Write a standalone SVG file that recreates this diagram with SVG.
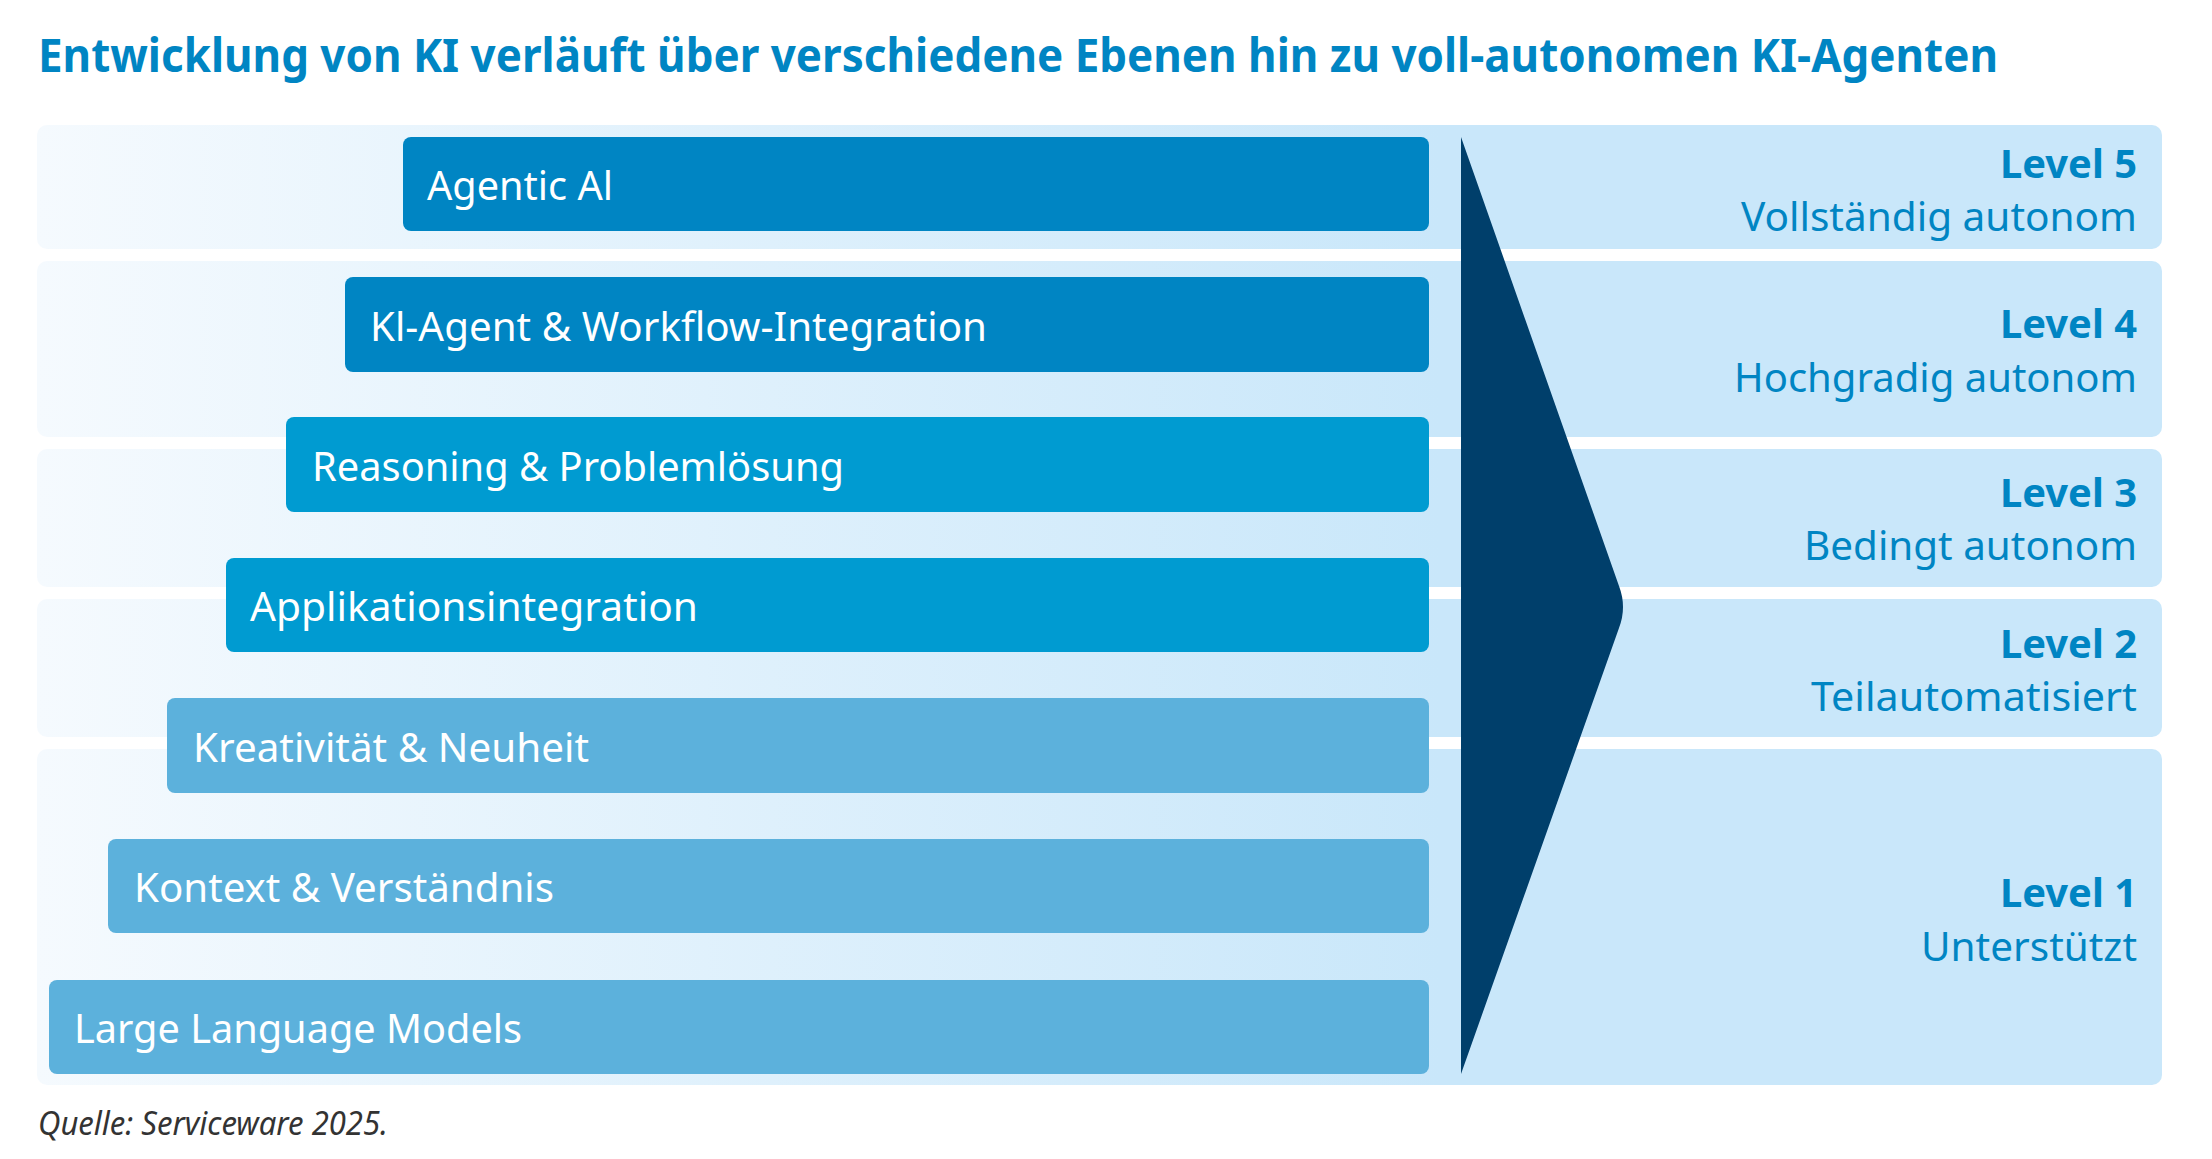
<svg xmlns="http://www.w3.org/2000/svg" width="2212" height="1159" viewBox="0 0 2212 1159">
<defs>
<linearGradient id="bg" x1="37" y1="0" x2="2162" y2="0" gradientUnits="userSpaceOnUse">
<stop offset="0" stop-color="#F5FAFE"/><stop offset="0.66" stop-color="#C9E7FA"/><stop offset="1" stop-color="#C9E7FA"/>
</linearGradient>
</defs>
<style>
text{font-family:"Noto Sans","Open Sans",sans-serif}
.band{fill:url(#bg)}
.b1{fill:#0085C3}.b2{fill:#009BD1}.b3{fill:#5CB1DC}
.lbl{fill:#fff;font-size:40px}
.lv{fill:#0085C3;font-size:40px;font-weight:bold;text-anchor:end}
.sub{fill:#0085C3;font-size:40px;text-anchor:end}
</style>
<rect width="2212" height="1159" fill="#fff"/>
<text x="38" y="72" font-size="46" font-weight="bold" fill="#0085C3" textLength="1960" lengthAdjust="spacingAndGlyphs">Entwicklung von KI verläuft über verschiedene Ebenen hin zu voll-autonomen KI-Agenten</text>
<g id="bands">
<rect class="band" x="37" y="125" width="2125" height="124" rx="10"/>
<rect class="band" x="37" y="261" width="2125" height="176" rx="10"/>
<rect class="band" x="37" y="449" width="2125" height="138" rx="10"/>
<rect class="band" x="37" y="599" width="2125" height="138" rx="10"/>
<rect class="band" x="37" y="749" width="2125" height="336" rx="10"/>
</g>
<g id="bar1"><rect class="b1" x="403" y="137" width="1026" height="94" rx="8"/><text class="lbl" x="427" y="200" textLength="186" lengthAdjust="spacingAndGlyphs">Agentic Al</text></g>
<g id="bar2"><rect class="b1" x="345" y="277" width="1084" height="95" rx="8"/><text class="lbl" x="370" y="341" textLength="617" lengthAdjust="spacingAndGlyphs">Kl-Agent &amp; Workflow-Integration</text></g>
<g id="bar3"><rect class="b2" x="286" y="417" width="1143" height="95" rx="8"/><text class="lbl" x="312" y="481" textLength="532" lengthAdjust="spacingAndGlyphs">Reasoning &amp; Problemlösung</text></g>
<g id="bar4"><rect class="b2" x="226" y="558" width="1203" height="94" rx="8"/><text class="lbl" x="250" y="621" textLength="448" lengthAdjust="spacingAndGlyphs">Applikationsintegration</text></g>
<g id="bar5"><rect class="b3" x="167" y="698" width="1262" height="95" rx="8"/><text class="lbl" x="193" y="762" textLength="396" lengthAdjust="spacingAndGlyphs">Kreativität &amp; Neuheit</text></g>
<g id="bar6"><rect class="b3" x="108" y="839" width="1321" height="94" rx="8"/><text class="lbl" x="134" y="902" textLength="420" lengthAdjust="spacingAndGlyphs">Kontext &amp; Verständnis</text></g>
<g id="bar7"><rect class="b3" x="49" y="980" width="1380" height="94" rx="8"/><text class="lbl" x="74" y="1043" textLength="448" lengthAdjust="spacingAndGlyphs">Large Language Models</text></g>
<g id="arrow"><path d="M1461,137 L1619,586 Q1627,607 1619,628 L1461,1074 Z" fill="#003F6B"/></g>
<g id="level5"><text class="lv" x="2137" y="178" textLength="137" lengthAdjust="spacingAndGlyphs">Level 5</text><text class="sub" x="2137" y="231" textLength="396" lengthAdjust="spacingAndGlyphs">Vollständig autonom</text></g>
<g id="level4"><text class="lv" x="2137" y="338" textLength="137" lengthAdjust="spacingAndGlyphs">Level 4</text><text class="sub" x="2137" y="392" textLength="403" lengthAdjust="spacingAndGlyphs">Hochgradig autonom</text></g>
<g id="level3"><text class="lv" x="2137" y="507" textLength="137" lengthAdjust="spacingAndGlyphs">Level 3</text><text class="sub" x="2137" y="560" textLength="333" lengthAdjust="spacingAndGlyphs">Bedingt autonom</text></g>
<g id="level2"><text class="lv" x="2137" y="658" textLength="137" lengthAdjust="spacingAndGlyphs">Level 2</text><text class="sub" x="2137" y="711" textLength="326" lengthAdjust="spacingAndGlyphs">Teilautomatisiert</text></g>
<g id="level1"><text class="lv" x="2137" y="907" textLength="137" lengthAdjust="spacingAndGlyphs">Level 1</text><text class="sub" x="2137" y="961" textLength="216" lengthAdjust="spacingAndGlyphs">Unterstützt</text></g>
<text x="38" y="1135" font-size="32" font-style="italic" fill="#333" textLength="350" lengthAdjust="spacingAndGlyphs">Quelle: Serviceware 2025.</text>
</svg>
